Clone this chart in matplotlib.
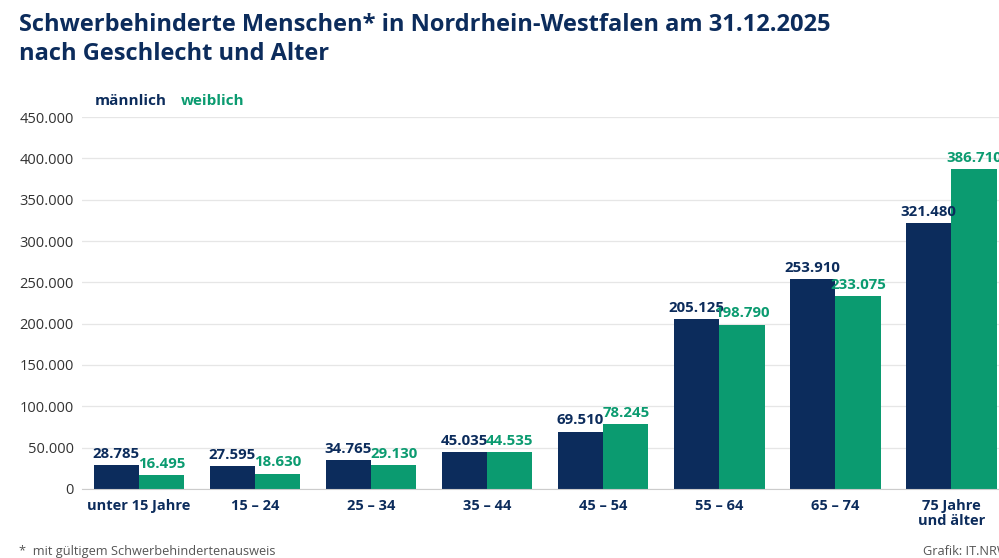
import matplotlib
matplotlib.use('Agg')
from matplotlib import pyplot as plt
import numpy as np

plt.rcParams['font.family'] = ['Open Sans', 'DejaVu Sans']

# data
categories = ['unter 15 Jahre', '15 – 24', '25 – 34', '35 – 44', '45 – 54',
              '55 – 64', '65 – 74', '75 Jahre\nund älter']
maennlich = [28785, 27595, 34765, 45035, 69510, 205125, 253910, 321480]
weiblich = [16495, 18630, 29130, 44535, 78245, 198790, 233075, 386710]
yticks = [0, 50000, 100000, 150000, 200000, 250000, 300000, 350000, 400000, 450000]

navy = '#0c2c5c'
green = '#0b9b70'

def fmt(v):
    return f'{v:,}'.replace(',', '.')

fig = plt.figure(figsize=(9.99, 5.58), dpi=100)
ax = fig.add_axes([0.082, 0.1237, 0.918, 0.6666])

x = np.arange(len(categories))
w = 0.39
ax.bar(x - w / 2, maennlich, w, color=navy, zorder=3)
ax.bar(x + w / 2, weiblich, w, color=green, zorder=3)

for i in range(len(x)):
    ax.annotate(fmt(maennlich[i]), (x[i] - w / 2, maennlich[i]), xytext=(0, 3),
                textcoords='offset points', ha='center', va='bottom',
                fontsize=10.8, fontweight='bold', color=navy, annotation_clip=False)
    ax.annotate(fmt(weiblich[i]), (x[i] + w / 2, weiblich[i]), xytext=(0, 3),
                textcoords='offset points', ha='center', va='bottom',
                fontsize=10.8, fontweight='bold', color=green, annotation_clip=False)

ax.set_xlim(-0.49, 7.41)
ax.set_ylim(0, 450000)
ax.set_yticks(yticks)
ax.set_yticklabels([fmt(t) if t else '0' for t in yticks], fontsize=10.5, color='#333333')
ax.set_xticks(x)
ax.set_xticklabels(categories, fontsize=10.5, fontweight='bold', color=navy,
                   linespacing=1.1, va='top')
ax.tick_params(axis='both', length=0)
ax.tick_params(axis='x', pad=7)
ax.tick_params(axis='y', pad=6)
ax.grid(axis='y', color='#e6e6e6', linewidth=0.9, zorder=0)
for s in ['top', 'right', 'left']:
    ax.spines[s].set_visible(False)
ax.spines['bottom'].set_color('#cccccc')
ax.spines['bottom'].set_zorder(4)

# title and legend
fig.text(0.019, 0.955, 'Schwerbehinderte Menschen* in Nordrhein-Westfalen am 31.12.2025',
         fontsize=17, fontweight='bold', color=navy, va='center')
fig.text(0.019, 0.903, 'nach Geschlecht und Alter',
         fontsize=17, fontweight='bold', color=navy, va='center')
fig.text(0.095, 0.819, 'männlich', fontsize=11, fontweight='bold', color=navy, va='center')
fig.text(0.181, 0.819, 'weiblich', fontsize=11, fontweight='bold', color=green, va='center')

# footer
fig.text(0.019, 0.012, '*  mit gültigem Schwerbehindertenausweis', fontsize=9.2,
         color='#555555', va='center')
fig.text(0.924, 0.012, 'Grafik: IT.NRW', fontsize=9.2, color='#555555', va='center')

fig.savefig('out.png', dpi=100, facecolor='white')
